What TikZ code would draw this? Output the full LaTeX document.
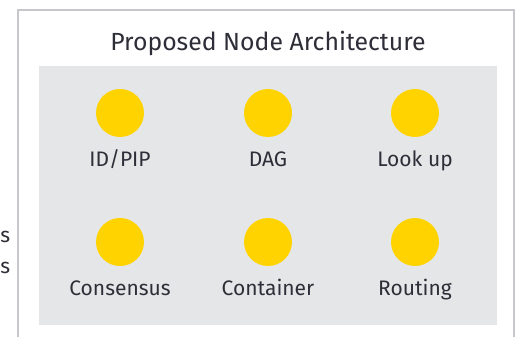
\documentclass[tikz,border=0pt]{standalone}
\usepackage{fontspec}
\setmainfont{Fira Sans}
\definecolor{txt}{HTML}{2E2E38}
\definecolor{frame}{HTML}{C6C6CB}
\definecolor{panel}{HTML}{E5E6E8}
\definecolor{dot}{HTML}{FFD300}
\begin{document}
\begin{tikzpicture}[x=1pt,y=-1pt,
  dotnode/.style={circle,fill=dot,draw=none,minimum size=48pt,inner sep=0pt},
  lbl/.style={text=txt,font=\fontsize{21}{24}\selectfont,anchor=base,inner sep=0pt},
  frag/.style={text=txt,font=\fontsize{21}{24}\selectfont,anchor=base west,inner sep=0pt}]
\useasboundingbox (0,0) rectangle (520,337);
\begin{scope}
\clip (0,0) rectangle (520,337);
\fill[white] (0,0) rectangle (520,337);
\draw[frame,line width=1.3pt] (18,10) -- (514,10) -- (514,345) -- (18,345) -- cycle;
\fill[panel] (39,66) rectangle (497,325);
\end{scope}
\node[frag] (f1) at (0.3,242) {s};
\node[frag] (f2) at (0.3,273) {s};
\node[text=txt,font=\fontsize{24.8}{29}\selectfont,anchor=base,inner sep=0pt] (title) at (268,51) {Proposed Node Architecture};
\node[dotnode] (c1) at (120,113) {};
\node[dotnode] (c2) at (268,113) {};
\node[dotnode] (c3) at (415,113) {};
\node[dotnode] (c4) at (120,242) {};
\node[dotnode] (c5) at (268,242) {};
\node[dotnode] (c6) at (415,242) {};
\node[lbl] (l1) at (120,166) {ID/PIP};
\node[lbl] (l2) at (268,166) {DAG};
\node[lbl] (l3) at (415,166) {Look up};
\node[lbl] (l4) at (120,295) {Consensus};
\node[lbl] (l5) at (268,295) {Container};
\node[lbl] (l6) at (415,295) {Routing};
\end{tikzpicture}
\end{document}
